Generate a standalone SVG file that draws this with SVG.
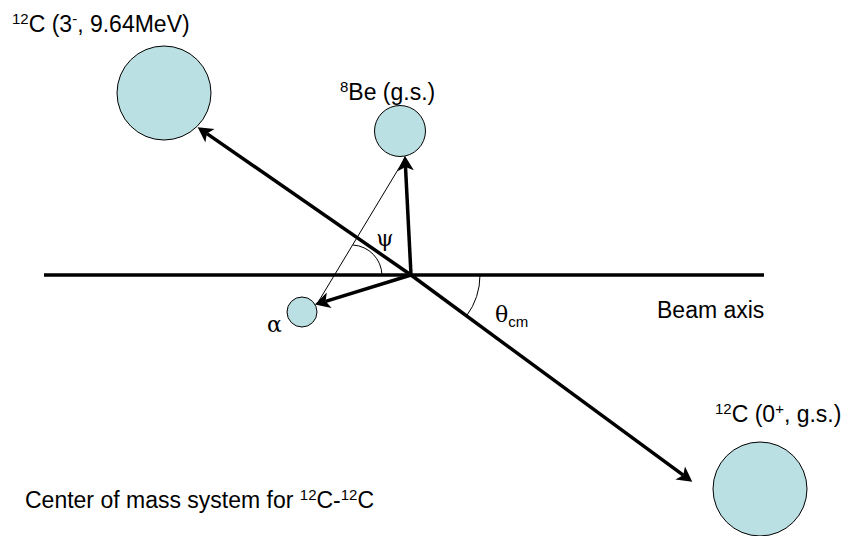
<svg xmlns="http://www.w3.org/2000/svg" width="846" height="536" viewBox="0 0 846 536">
<style>
.ball{fill:#BBE0E3;stroke:#000;stroke-width:1}
.lbl{font-family:"Liberation Sans",Arial,sans-serif;font-size:23px;fill:#000}
.sup{font-size:15px}
.greek{font-family:"DejaVu Serif","Liberation Serif",serif;font-size:22px;fill:#000}
.arrow{stroke:#000;stroke-width:3.5;fill:none;marker-end:url(#ah)}
.thin{stroke:#000;stroke-width:1;fill:none}
</style>
<defs>
<marker id="ah" markerUnits="userSpaceOnUse" markerWidth="20" markerHeight="20" viewBox="-2 -8 16 16" refX="3" refY="0" orient="auto">
<path d="M12,0 L0,-6.5 L3,0 L0,6.5 Z" fill="#000"/>
</marker>
</defs>
<rect width="846" height="536" fill="#fff"/>
<g id="c12-excited">
<circle class="ball" cx="164" cy="93" r="47"/>
<text class="lbl" x="12" y="32"><tspan class="sup" dy="-8">12</tspan><tspan dy="8">C (3</tspan><tspan class="sup" dy="-8">-</tspan><tspan dy="8">, 9.64MeV)</tspan></text>
</g>
<g id="be8">
<circle class="ball" cx="400" cy="131" r="25.5"/>
<text class="lbl" x="340" y="100"><tspan class="sup" dy="-8">8</tspan><tspan dy="8">Be (g.s.)</tspan></text>
</g>
<g id="alpha">
<circle class="ball" cx="302" cy="312" r="15"/>
<text class="greek" x="274.5" y="332" text-anchor="middle">α</text>
</g>
<g id="c12-gs">
<circle class="ball" cx="760" cy="489" r="47"/>
<text class="lbl" x="715" y="422"><tspan class="sup" dy="-8">12</tspan><tspan dy="8">C (0</tspan><tspan class="sup" dy="-8">+</tspan><tspan dy="8">, g.s.)</tspan></text>
</g>
<g id="beam-axis">
<line x1="44" y1="275" x2="764" y2="275" stroke="#000" stroke-width="3.5"/>
<text class="lbl" x="657" y="318">Beam axis</text>
</g>
<g id="connectors">
<line class="arrow" x1="411" y1="275" x2="206.9" y2="133.6"/>
<line class="arrow" x1="411" y1="275" x2="683.2" y2="475.2"/>
<line class="arrow" x1="411" y1="275" x2="405.5" y2="167"/>
<line class="arrow" x1="411" y1="275" x2="325.6" y2="301.3"/>
<line class="thin" x1="405" y1="158" x2="317" y2="304"/>
<path class="thin" d="M353,245 A31,31 0 0 1 382,275"/>
<path class="thin" d="M480,275 A69,69 0 0 1 466.6,315.8"/>
</g>
<g id="angle-labels">
<text class="greek" x="385" y="246" text-anchor="middle">ψ</text>
<text class="greek" x="495" y="322">θ<tspan font-family="Liberation Sans,Arial,sans-serif" font-size="15" dy="5">cm</tspan></text>
</g>
<g id="caption">
<text class="lbl" x="25" y="508">Center of mass system for <tspan class="sup" dy="-8">12</tspan><tspan dy="8">C-</tspan><tspan class="sup" dy="-8">12</tspan><tspan dy="8">C</tspan></text>
</g>
</svg>
